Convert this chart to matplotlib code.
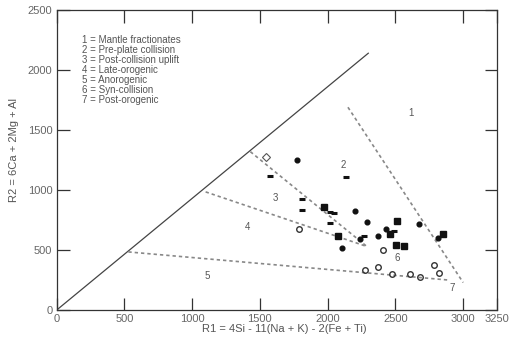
import numpy as np
import matplotlib.pyplot as plt

plt.rcParams['font.family'] = ['Liberation Sans', 'DejaVu Sans']

# field boundaries (R1, R2)
solid_x = [0, 2300]
solid_y = [0, 2140]
bounds = [
    ([2150, 3000], [1690, 230]),   # field 1
    ([1430, 2290], [1320, 530]),   # 2/3
    ([1100, 2290], [985, 530]),    # 3/4
    ([530, 2900], [485, 250]),     # 5/7
]

# field labels
field_ids = ['1', '2', '3', '4', '5', '6', '7']
field_x = [2618, 2116, 1612, 1406, 1110, 2513, 2920]
field_y = [1640, 1208, 935, 690, 283, 433, 183]

legend_lines = ['1 = Mantle fractionates', '2 = Pre-plate collision',
                '3 = Post-collision uplift', '4 = Late-orogenic',
                '5 = Anorogenic', '6 = Syn-collision', '7 = Post-orogenic']

# samples
circ_x = [1774, 2205, 2291, 2434, 2370, 2240, 2677, 2815, 2106]
circ_y = [1250, 828, 731, 672, 620, 595, 717, 600, 514]
sq_x = [1970, 2079, 2513, 2458, 2505, 2567, 2852]
sq_y = [856, 618, 743, 632, 546, 535, 632]
dash_x = [1572, 1811, 1811, 2020, 2050, 2020, 2138, 2488, 2265]
dash_y = [1117, 925, 831, 815, 808, 728, 1111, 660, 615]
diam_x = [1545]
diam_y = [1278]
ocirc_x = [1786, 2409, 2370, 2274, 2476, 2606, 2685, 2783, 2825]
ocirc_y = [677, 500, 361, 333, 300, 300, 278, 375, 306]

fig = plt.figure(figsize=(5.14, 3.45), dpi=100)
ax = fig.add_axes([0.11, 0.101, 0.857, 0.87])

ax.plot(solid_x, solid_y, '-', color='#444444', lw=0.9)
for bx, by in bounds:
    ax.plot(bx, by, '--', color='#888888', lw=1.2, dashes=(2, 1.8))

ax.plot(circ_x, circ_y, 'o', color='#111111', ms=3.4, ls='none')
ax.plot(sq_x, sq_y, 's', color='#111111', ms=4, ls='none')
ax.plot(dash_x, dash_y, '_', color='#111111', ms=5, mew=2.2, ls='none')
ax.plot(diam_x, diam_y, 'D', mfc='none', mec='#555555', ms=4, mew=0.8, ls='none')
ax.plot(ocirc_x, ocirc_y, 'o', mfc='none', mec='#333333', ms=4, mew=1, ls='none')

for t, x, y in zip(field_ids, field_x, field_y):
    ax.text(x, y, t, fontsize=7, color='#555555', ha='center', va='center')

for i, s in enumerate(legend_lines):
    ax.text(0.0575, 0.90 - i * 0.0335, s, fontsize=7, color='#555555',
            transform=ax.transAxes, va='center')

ax.set_xlim(0, 3250)
ax.set_ylim(0, 2500)
ax.set_xticks([0, 500, 1000, 1500, 2000, 2500, 3000, 3250])
ax.set_yticks([0, 500, 1000, 1500, 2000, 2500])
ax.tick_params(direction='in', length=9, width=0.9, top=True, right=True,
               labelsize=8, colors='#333333', labelcolor='#666666', pad=3)
for sp in ax.spines.values():
    sp.set_color('#333333')
    sp.set_linewidth(0.9)

ax.set_xlabel('R1 = 4Si - 11(Na + K) - 2(Fe + Ti)', fontsize=8, color='#555555')
ax.set_ylabel('R2 = 6Ca + 2Mg + Al', fontsize=8, color='#555555')
ax.xaxis.set_label_coords(0.516, -0.045, transform=ax.transAxes)
ax.xaxis.label.set_va('top')
ax.yaxis.set_label_coords(-0.085, 0.533, transform=ax.transAxes)

plt.savefig('out.png', dpi=100)
